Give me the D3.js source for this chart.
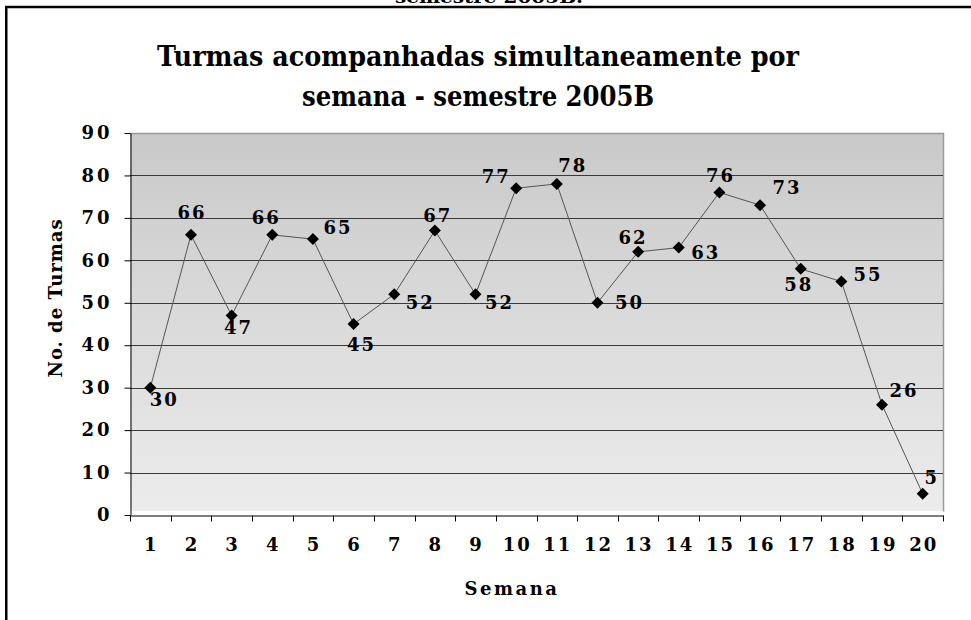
<!DOCTYPE html>
<html>
<head>
<meta charset="utf-8">
<script src="https://cdn.jsdelivr.net/npm/d3@7"></script>
<style>
  html, body { margin: 0; padding: 0; background: #ffffff; }
  svg { display: block; }
</style>
</head>
<body>
<svg id="chart" width="971" height="620"></svg>
<script>
// ---- data ----
const categories = ["1","2","3","4","5","6","7","8","9","10","11","12","13","14","15","16","17","18","19","20"];
const turmas = [30, 66, 47, 66, 65, 45, 52, 67, 52, 77, 78, 50, 62, 63, 76, 73, 58, 55, 26, 5];
const yTicks = [0, 10, 20, 30, 40, 50, 60, 70, 80, 90];
const titleLines = ["Turmas acompanhadas simultaneamente por", "semana - semestre 2005B"];
const xTitle = "Semana";
const yTitle = "No.  de  Turmas";
const cutText = "semestre 2005B.";
// label nudges (px) relative to each marker
const labelNudge = [[13,12],[0,-22],[6,12.5],[-7,-17],[24,-12],[7,21],[25,8],[2,-15],[23,8],[-21,-12],
                    [15,-18],[31,0],[-6,-14],[26,5],[0,-17],[26,-18],[-3,15.6],[25.6,-7],[21,-14],[8,-16]];

(function () {
const svg = d3.select("#chart");
const serif = "'DejaVu Serif', 'Liberation Serif', serif";

// outer frame (continues beyond the picture on the right and bottom)
svg.append("rect").attr("x", 6.25).attr("y", 7).attr("width", 1000).attr("height", 700)
   .attr("fill", "none").attr("stroke", "#000").attr("stroke-width", 2.5);

// clipped text at the very top (cut off in the original too)
svg.append("text").attr("x", 489).attr("y", 3).attr("text-anchor", "middle")
   .attr("font-family", serif).attr("font-weight", "bold").attr("font-size", 16)
   .attr("textLength", 188).attr("lengthAdjust", "spacingAndGlyphs")
   .text(cutText);

// title
const titleWidths = [642, 352];
const titleBase = [66, 106];
titleLines.forEach((t, i) => {
  svg.append("text").attr("x", 478).attr("y", titleBase[i]).attr("text-anchor", "middle")
     .attr("font-family", serif).attr("font-weight", "bold").attr("font-size", 28)
     .attr("textLength", titleWidths[i]).attr("lengthAdjust", "spacingAndGlyphs")
     .text(t);
});

// scales
const pL = 130, pR = 943, pT = 133, pB = 515;
const x = d3.scaleBand().domain(categories).range([pL, pR]).padding(0);
const y = d3.scaleLinear().domain([0, 90]).range([pB, pT]);
const cx = c => x(c) + x.bandwidth() / 2;

// gradient background
const defs = svg.append("defs");
const grad = defs.append("linearGradient").attr("id", "bg").attr("x1", 0).attr("y1", 0).attr("x2", 0).attr("y2", 1);
grad.append("stop").attr("offset", "0%").attr("stop-color", "#c9c9c9");
grad.append("stop").attr("offset", "100%").attr("stop-color", "#ececec");

svg.append("rect").attr("x", pL).attr("y", pT).attr("width", pR - pL).attr("height", 511 - pT)
   .attr("fill", "url(#bg)");

// plot border (top/right)
svg.append("path")
   .attr("d", `M${pL},${pT + 0.5}H${pR + 0.5}V511.5`)
   .attr("fill", "none").attr("stroke", "#9a9a9a").attr("stroke-width", 1.5);

// gridlines
svg.append("g").selectAll("line").data(yTicks.filter(v => v > 0 && v < 90)).join("line")
   .attr("x1", pL).attr("x2", pR)
   .attr("y1", d => Math.round(y(d)) + 0.5).attr("y2", d => Math.round(y(d)) + 0.5)
   .attr("stroke", "#3a3a3a").attr("stroke-width", 1);

// y axis
const yAxis = svg.append("g").attr("transform", `translate(${pL + 0.5},0)`)
   .call(d3.axisLeft(y).tickValues(yTicks).tickSize(6).tickPadding(15).tickSizeOuter(0));
yAxis.select(".domain").attr("stroke", "#000");
yAxis.selectAll(".tick line").attr("stroke", "#000");
yAxis.selectAll(".tick text").attr("font-family", serif).attr("font-weight", "bold")
   .attr("font-size", 18).attr("letter-spacing", 3).attr("fill", "#000").attr("dx", 3);

// x axis
const xAxis = svg.append("g").attr("transform", `translate(0,${pB + 0.5})`)
   .call(d3.axisBottom(x).tickSize(0).tickPadding(23).tickSizeOuter(0));
xAxis.select(".domain").attr("stroke", "#000");
xAxis.selectAll(".tick text").attr("font-family", serif).attr("font-weight", "bold")
   .attr("font-size", 18).attr("letter-spacing", 2).attr("fill", "#000").attr("dx", 1);
// boundary tick marks
const bounds = categories.map(c => x(c)).concat([pR]);
xAxis.append("g").selectAll("line").data(bounds).join("line")
   .attr("x1", d => Math.round(d) + 0.5).attr("x2", d => Math.round(d) + 0.5)
   .attr("y1", 0).attr("y2", 6).attr("stroke", "#000");

// axis titles
svg.append("text").attr("x", 512).attr("y", 595).attr("text-anchor", "middle")
   .attr("font-family", serif).attr("font-weight", "bold").attr("font-size", 18)
   .attr("letter-spacing", 2.5).text(xTitle);
svg.append("text").attr("transform", "translate(62,298) rotate(-90)").attr("text-anchor", "middle")
   .attr("font-family", serif).attr("font-weight", "bold").attr("font-size", 18)
   .attr("letter-spacing", 1).text(yTitle);

// series line
const line = d3.line().x((d, i) => cx(categories[i])).y(d => y(d));
svg.append("path").datum(turmas).attr("d", line)
   .attr("fill", "none").attr("stroke", "#555").attr("stroke-width", 1);

// markers
const r = 6;
svg.append("g").selectAll("path").data(turmas).join("path")
   .attr("d", (d, i) => {
     const px = cx(categories[i]), py = y(d);
     return `M${px},${py - r}L${px + r},${py}L${px},${py + r}L${px - r},${py}Z`;
   })
   .attr("fill", "#000");

// data labels
svg.append("g").selectAll("text").data(turmas).join("text")
   .attr("x", (d, i) => cx(categories[i]) + labelNudge[i][0] + 1)
   .attr("y", (d, i) => y(d) + labelNudge[i][1])
   .attr("dy", "0.36em").attr("text-anchor", "middle")
   .attr("font-family", serif).attr("font-weight", "bold").attr("font-size", 18)
   .attr("letter-spacing", 2).attr("fill", "#000")
   .text(d => d);
})();
</script>
</body>
</html>
